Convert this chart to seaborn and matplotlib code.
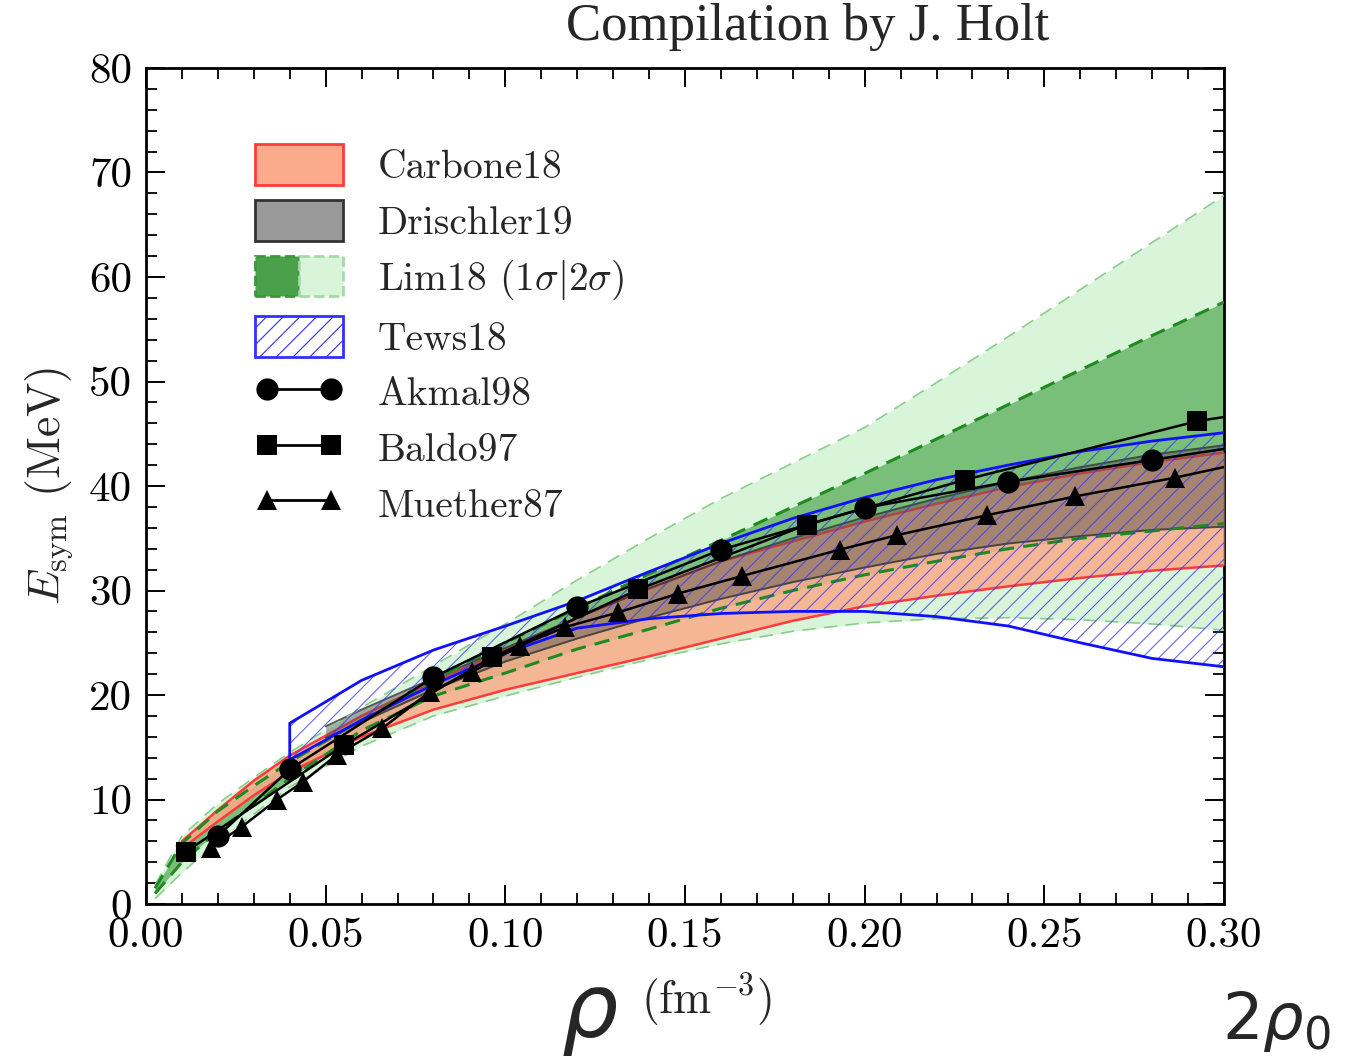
import matplotlib
matplotlib.use("Agg")
import matplotlib.pyplot as plt
import seaborn as sns
import pandas as pd
from matplotlib.patches import Patch
from matplotlib.lines import Line2D
from matplotlib.legend_handler import HandlerTuple

# ---------------- data ----------------
# Lim18 bands (1 sigma and 2 sigma), density in fm^-3, E_sym in MeV
lim_rho = [0.0025, 0.01, 0.02, 0.03, 0.04, 0.06, 0.08, 0.10, 0.12, 0.14, 0.16,
           0.18, 0.20, 0.22, 0.24, 0.26, 0.28, 0.30]
lim_2s_hi = [1.8, 6.5, 9.6, 12.1, 14.5, 18.8, 22.8, 26.8, 31.0, 35.0, 38.8,
             42.2, 45.6, 49.9, 54.3, 58.8, 63.3, 67.8]
lim_1s_hi = [1.5, 5.8, 8.9, 11.3, 13.6, 17.6, 21.4, 25.0, 28.3, 31.6, 34.8,
             38.0, 41.2, 44.5, 47.8, 51.1, 54.4, 57.6]
lim_1s_lo = [1.0, 4.0, 7.0, 9.5, 12.0, 16.6, 19.9, 22.1, 24.4, 26.3, 28.3,
             30.0, 31.5, 32.8, 34.0, 35.0, 35.7, 36.4]
lim_2s_lo = [0.5, 3.0, 6.0, 8.6, 11.2, 15.1, 18.0, 19.9, 21.7, 23.4, 24.9,
             26.1, 26.9, 27.3, 27.4, 27.2, 26.8, 26.2]

# Carbone18 band
car_rho = [0.01, 0.02, 0.03, 0.04, 0.06, 0.08, 0.10, 0.12, 0.14, 0.16, 0.18,
           0.20, 0.22, 0.24, 0.26, 0.28, 0.30]
car_hi = [6.0, 9.0, 11.8, 14.2, 18.0, 21.3, 24.3, 27.4, 30.2, 32.8, 34.7,
          36.6, 38.3, 39.9, 41.2, 42.3, 43.2]
car_lo = [5.3, 7.9, 10.4, 12.6, 16.0, 18.6, 20.5, 22.1, 23.7, 25.4, 27.1,
          28.5, 29.5, 30.4, 31.2, 31.9, 32.4]

# Drischler19 band
dr_rho = [0.05, 0.06, 0.08, 0.10, 0.12, 0.14, 0.16, 0.18, 0.20, 0.22, 0.24,
          0.26, 0.28, 0.30]
dr_hi = [17.0, 18.6, 21.6, 24.5, 27.4, 30.2, 32.8, 35.0, 37.0, 38.8, 40.4,
         41.8, 43.0, 43.9]
dr_lo = [15.9, 17.4, 20.5, 23.2, 25.4, 27.4, 29.2, 30.8, 32.2, 33.5, 34.5,
         35.2, 35.8, 36.1]

# Tews18 band
tews_rho = [0.04, 0.06, 0.08, 0.10, 0.12, 0.14, 0.16, 0.18, 0.20, 0.22, 0.24,
            0.26, 0.28, 0.30]
tews_hi = [17.3, 21.4, 24.3, 26.6, 29.0, 31.8, 34.5, 36.9, 38.9, 40.6, 42.0,
           43.3, 44.3, 45.1]
tews_lo = [13.8, 17.6, 21.0, 24.0, 26.4, 27.3, 27.8, 28.0, 28.0, 27.5, 26.6,
           25.0, 23.5, 22.7]

# microscopic calculations
akmal_rho = [0.02, 0.04, 0.08, 0.12, 0.16, 0.20, 0.24, 0.28, 0.32]
akmal_e = [6.5, 12.9, 21.7, 28.4, 33.9, 37.9, 40.4, 42.5, 44.6]
baldo_rho = [0.0111, 0.0551, 0.0963, 0.137, 0.184, 0.228, 0.2925, 0.345]
baldo_e = [5.0, 15.2, 23.6, 30.1, 36.3, 40.6, 46.2, 49.0]
muether_rho = [0.0181, 0.0267, 0.0365, 0.0437, 0.0532, 0.0657, 0.079, 0.0907,
               0.104, 0.1166, 0.1314, 0.148, 0.166, 0.193, 0.209, 0.234,
               0.2585, 0.2864, 0.32]
muether_e = [5.4, 7.4, 10.0, 11.7, 14.3, 16.8, 20.3, 22.2, 24.7, 26.5, 27.9,
             29.7, 31.4, 33.9, 35.3, 37.2, 39.0, 40.8, 43.3]

x_ticks = [0.00, 0.05, 0.10, 0.15, 0.20, 0.25, 0.30]
x_ticklabels = ["0.00", "0.05", "0.10", "0.15", "0.20", "0.25", "0.30"]
y_ticks = [0, 10, 20, 30, 40, 50, 60, 70, 80]
y_ticklabels = [str(v) for v in y_ticks]

band_labels = ["Carbone18", "Drischler19", r"Lim18 $(1\sigma|2\sigma)$", "Tews18"]
model_labels = ["Akmal98", "Baldo97", "Muether87"]

# ---------------- style ----------------
sns.set_style("ticks")
plt.rcParams.update({
    "font.family": ["cmr10"],
    "mathtext.fontset": "cm",
    "axes.formatter.use_mathtext": True,
    "hatch.linewidth": 0.8,
})

SALMON = "#fbab8b"
RED = "#ff3a3a"
DARKG = "#3a9a3a"
LIGHTG = "#d9f5d9"

fig = plt.figure(figsize=(13.53, 10.58), dpi=100)
ax = fig.add_axes([146 / 1353, 1 - 904 / 1058, 1078 / 1353, 836 / 1058])

# Lim18 2 sigma and 1 sigma
ax.fill_between(lim_rho, lim_2s_lo, lim_2s_hi, color=LIGHTG, lw=0, zorder=1)
ax.fill_between(lim_rho, lim_1s_lo, lim_1s_hi, color=DARKG, alpha=0.6, lw=0, zorder=2)

# Carbone18
ax.fill_between(car_rho, car_lo, car_hi, color=SALMON, alpha=0.85, lw=0, zorder=3)
ax.plot(car_rho, car_lo, color=RED, lw=1.8, zorder=3.1)
ax.plot(car_rho, car_hi, color=RED, lw=1.8, zorder=3.1)

# Drischler19
ax.fill_between(dr_rho, dr_lo, dr_hi, color="#555555", alpha=0.45, lw=0, zorder=4)
ax.plot(dr_rho, dr_lo, color="#333333", lw=1.4, alpha=0.8, zorder=4.1)
ax.plot(dr_rho, dr_hi, color="#333333", lw=1.4, alpha=0.8, zorder=4.1)

# Lim18 dashed edges
ax.plot(lim_rho, lim_2s_hi, color="#8ccc8c", lw=1.2, ls=(0, (8, 5)), zorder=5)
ax.plot(lim_rho, lim_2s_lo, color="#8ccc8c", lw=1.2, ls=(0, (8, 5)), zorder=5)
ax.plot(lim_rho, lim_1s_hi, color="#1f8a1f", lw=2.2, ls=(0, (5, 3)), zorder=5)
ax.plot(lim_rho, lim_1s_lo, color="#1f8a1f", lw=2.2, ls=(0, (5, 3)), zorder=5)

# Tews18 hatched band with outline
ax.fill_between(tews_rho, tews_lo, tews_hi, facecolor="none",
                edgecolor=(0.2, 0.2, 1.0, 0.75), hatch="//", lw=0, zorder=6)
outline_x = tews_rho[::-1] + tews_rho
outline_y = tews_hi[::-1] + tews_lo
ax.plot(outline_x, outline_y, color="#1010ff", lw=2.0, zorder=6.1)

# microscopic calculations
models = pd.concat([
    pd.DataFrame({"rho": akmal_rho, "E": akmal_e, "model": model_labels[0]}),
    pd.DataFrame({"rho": baldo_rho, "E": baldo_e, "model": model_labels[1]}),
    pd.DataFrame({"rho": muether_rho, "E": muether_e, "model": model_labels[2]}),
])
marker_map = {"Akmal98": ("o", 16), "Baldo97": ("s", 14), "Muether87": ("^", 15)}
for name, (mk, ms) in marker_map.items():
    sub = models[models["model"] == name]
    sns.lineplot(data=sub, x="rho", y="E", ax=ax, color="black", lw=1.8,
                 marker=mk, markersize=ms, markeredgewidth=0, sort=False,
                 estimator=None, zorder=7, legend=False)

# ---------------- axes ----------------
ax.set_xlim(0, 0.30)
ax.set_ylim(0, 80)
ax.set_xticks(x_ticks, x_ticklabels)
ax.set_yticks(y_ticks, y_ticklabels)
ax.set_xticks([i * 0.01 for i in range(31)], minor=True)
ax.set_yticks(list(range(0, 81, 2)), minor=True)
ax.tick_params(which="both", direction="in", top=True, right=True,
               labelsize=31, colors="black")
ax.tick_params(which="major", length=14, width=1.4, pad=10)
ax.tick_params(which="minor", length=8, width=1.3)
for sp in ax.spines.values():
    sp.set_linewidth(2.0)
    sp.set_color("black")
ax.set_xlabel("")
ax.set_ylabel(r"$E_{\rm sym}$ (MeV)", fontsize=33, labelpad=10)

# ---------------- legend ----------------
handles = [
    Patch(facecolor=SALMON, edgecolor=RED, lw=2),
    Patch(facecolor="#999999", edgecolor="#333333", lw=2),
    (Patch(facecolor="#4ba04b", edgecolor="#3a9a3a", lw=2, ls="--"),
     Patch(facecolor=LIGHTG, edgecolor="#a8d8a8", lw=2, ls="--")),
    Patch(facecolor="none", edgecolor="#3030ff", hatch="//", lw=2),
    Line2D([], [], color="black", lw=2, marker="o", markersize=16, markeredgewidth=0),
    Line2D([], [], color="black", lw=2, marker="s", markersize=14, markeredgewidth=0),
    Line2D([], [], color="black", lw=2, marker="^", markersize=15, markeredgewidth=0),
]
ax.legend(handles, band_labels + model_labels,
          handler_map={tuple: HandlerTuple(ndivide=None, pad=0)},
          loc="upper left", bbox_to_anchor=(0.101, 0.909), frameon=False,
          fontsize=28.5, handlelength=2.22, handleheight=1.2,
          labelspacing=0.36, handletextpad=0.88, borderpad=0,
          borderaxespad=0, numpoints=2)

# ---------------- figure texts ----------------
fig.text(808 / 1353, 1 - 27 / 1058, "Compilation by J. Holt",
         family=["Liberation Serif", "DejaVu Serif"],
         fontsize=38, ha="center", va="center")
fig.text(590 / 1353, 1 - 1018 / 1058, r"$\rho$", fontsize=64,
         math_fontfamily="dejavusans", ha="center", va="center")
fig.text(707 / 1353, 1 - 1000 / 1058, r"(fm$^{-3}$)", fontsize=33,
         ha="center", va="center")
fig.text(1276 / 1353, 1 - 1022 / 1058, r"$2\rho_0$", fontsize=46,
         math_fontfamily="dejavusans", ha="center", va="center")

fig.savefig("out.png", dpi=100)
